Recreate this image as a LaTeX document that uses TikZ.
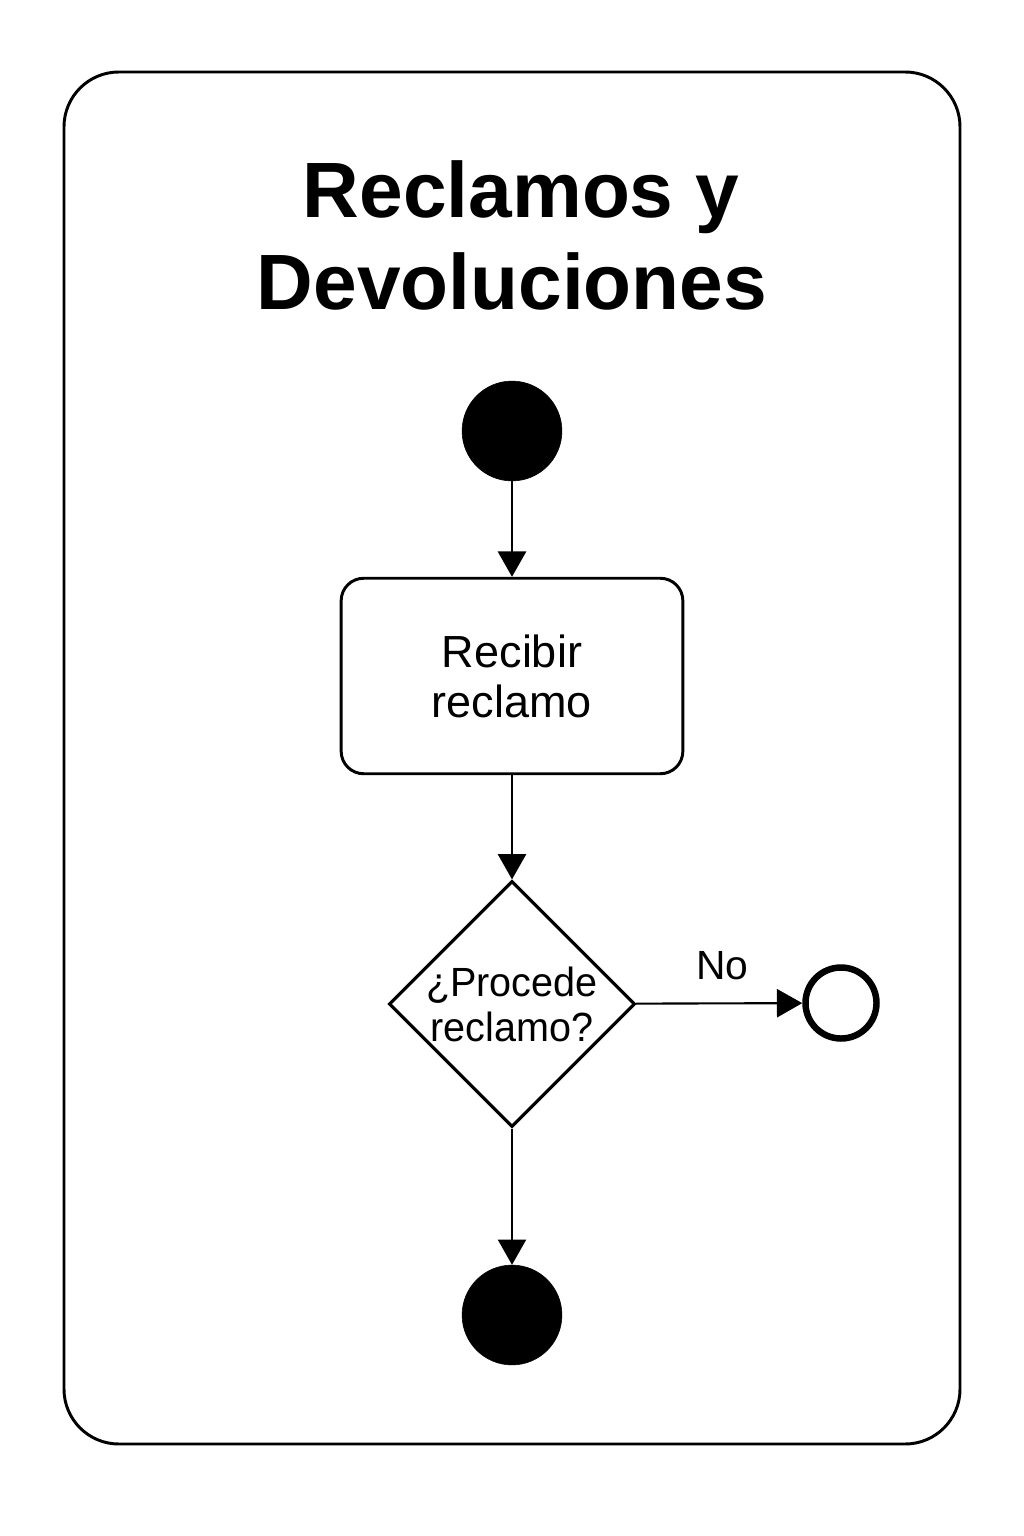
\documentclass[tikz,border=0pt]{standalone}
\usepackage{fontspec}
\setmainfont{Liberation Sans}
\usetikzlibrary{shapes.geometric,arrows.meta}
\tikzset{
  px/.style={x=0.025cm,y=-0.025cm},
  startdot/.style={circle,fill=black,draw=black,minimum size=71pt,inner sep=0pt},
  enddot/.style={circle,draw=black,line width=4.6pt,minimum size=50.5pt,inner sep=0pt},
  actbox/.style={rectangle,rounded corners=16pt,draw=black,line width=2.1pt,minimum width=243pt,minimum height=139pt,align=center,font=\fontsize{32pt}{35.6pt}\selectfont},
  decision/.style={diamond,draw=black,line width=2.2pt,minimum width=175pt,minimum height=175pt,inner sep=0pt,aspect=1},
  dtext/.style={align=center,inner sep=0pt,font=\fontsize{29pt}{32pt}\selectfont},
  flow/.style={line width=1.5pt,-{Triangle[length=18pt,width=20pt]}},
  lbl/.style={font=\fontsize{29pt}{32pt}\selectfont,inner sep=0pt},
  titletext/.style={font=\bfseries\fontsize{55.8pt}{67.6pt}\selectfont,align=center,inner sep=0pt}
}
\begin{document}
\begin{tikzpicture}[px]
\useasboundingbox (0,0) rectangle (1024,1536);
\draw[line width=2.1pt,rounded corners=39pt] (64,72) rectangle (960,1444);
\node[titletext,anchor=base] (t1) at (521,218) {Reclamos y};
\node[titletext,anchor=base] (t2) at (512,310) {Devoluciones};
\node[startdot] (start) at (512,431) {};
\node[actbox] (recv) at (512,676) {Recibir\\reclamo};
\node[decision] (dec) at (512,1004) {};
\node[dtext] (dectext) at (dec.center) {\scalebox{0.97}[1]{¿Procede}\\\scalebox{0.97}[1]{reclamo?}};
\node[enddot] (flowend) at (841,1003) {};
\node[startdot] (final) at (512,1315) {};
\draw[flow] (start) -- (recv);
\draw[flow] (recv) -- (dec);
\draw[flow] (dec) -- node[lbl,above=16pt,xshift=2pt] (no) {No} (flowend);
\draw[flow] (dec) -- (final);
\end{tikzpicture}
\end{document}
